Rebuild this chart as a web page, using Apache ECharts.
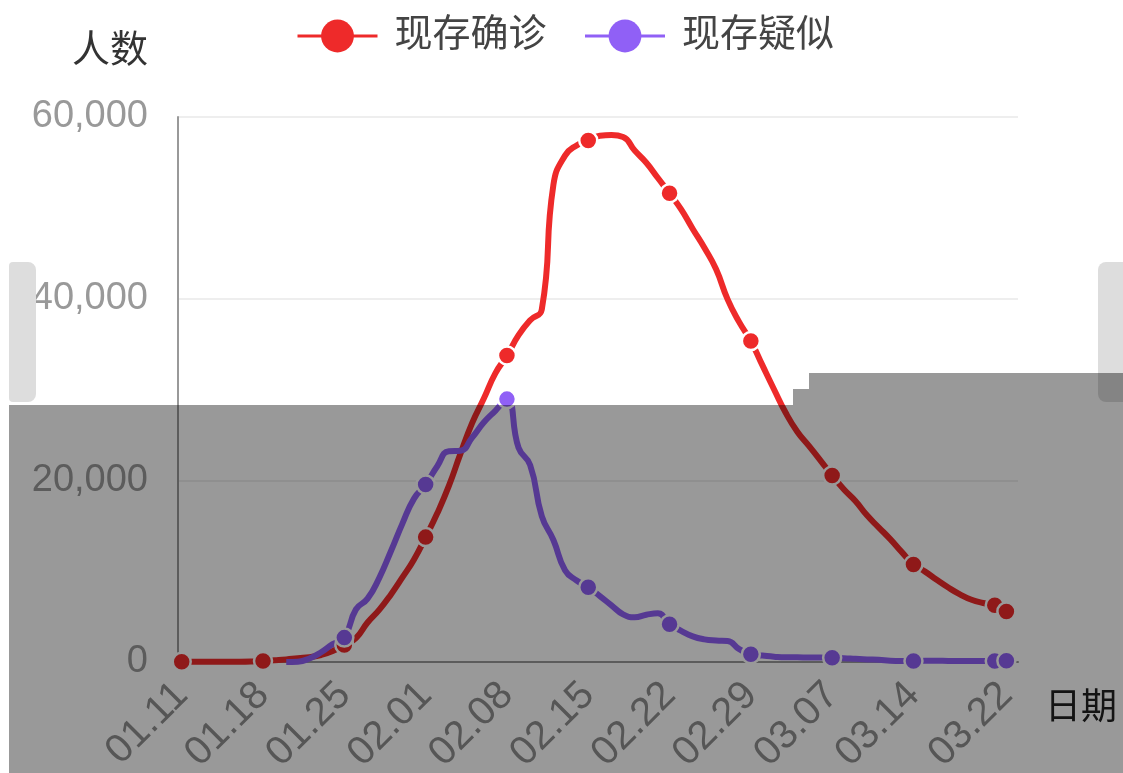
<!DOCTYPE html>
<html>
<head>
<meta charset="utf-8">
<script src="https://cdn.jsdelivr.net/npm/echarts@6/dist/echarts.min.js"></script>
<style>
html,body{margin:0;padding:0;background:#fff;}
#c{width:1123px;height:773px;}
</style>
</head>
<body>
<div id="c"></div>
<script>
// ---- data ----
const dates = [
 '01.11','01.12','01.13','01.14','01.15','01.16','01.17','01.18','01.19','01.20',
 '01.21','01.22','01.23','01.24','01.25','01.26','01.27','01.28','01.29','01.30','01.31',
 '02.01','02.02','02.03','02.04','02.05','02.06','02.07','02.08','02.09','02.10',
 '02.11','02.12','02.13','02.14','02.15','02.16','02.17','02.18','02.19','02.20',
 '02.21','02.22','02.23','02.24','02.25','02.26','02.27','02.28','02.29',
 '03.01','03.02','03.03','03.04','03.05','03.06','03.07','03.08','03.09','03.10',
 '03.11','03.12','03.13','03.14','03.15','03.16','03.17','03.18','03.19','03.20',
 '03.21','03.22'
];
const confirmedNow = [
 38,37,37,37,34,34,54,112,186,278,
 425,539,771,1208,1870,2637,4349,5739,7417,9308,11289,
 13748,16369,19381,22942,26302,28985,31774,33738,35982,37626,
 38800,52526,55748,56873,57416,57934,58016,57805,56303,54965,
 53284,51606,49824,47672,45604,43258,39919,37414,35329,
 32652,30004,27433,25352,23784,22177,20533,19016,17721,16145,
 14831,13526,12094,10734,9950,9050,8200,7450,6850,6500,
 6250,5550
];
const suspectedNow = [
 null,null,null,null,null,null,null,null,null,0,
 37,393,1072,1965,2684,5794,6973,9239,12167,15238,17988,
 19544,21558,23214,23260,24702,26359,27657,28942,23589,21675,
 16067,13435,10109,8969,8228,7264,6242,5248,4922,5206,
 5365,4148,3434,2824,2491,2358,2308,1418,851,
 715,587,520,522,482,502,458,421,349,285,
 253,147,115,113,134,128,119,105,104,106,
 118,136
];
const seriesNames = ['现存确诊','现存疑似'];
const labelIndex = [0,7,14,21,28,35,42,49,56,63,71];
const markerIndex = [0,7,14,21,28,35,42,49,56,63,70,71];
const yTicks = [0,20000,40000,60000];

// ---- styles ----
const RED = '#ee2a2a';
const PURPLE = '#9060f6';
const FONT = '"Liberation Sans","Noto Sans CJK SC",sans-serif';

const toPairs = arr => arr.map((v,i)=>[i,v]).filter(d=>d[1]!==null);
const symSize = v => markerIndex.indexOf(v[0]) >= 0 ? 18 : 0;

const chart = echarts.init(document.getElementById('c'), null, {renderer:'canvas'});
chart.setOption({
  animation:false,
  backgroundColor:'#fff',
  textStyle:{fontFamily:FONT},
  legend:{
    data:seriesNames,
    left:291, top:12,
    itemWidth:80, itemHeight:41, itemGap:37,
    lineStyle:{width:3},
    itemStyle:{borderWidth:0},
    textStyle:{fontSize:38, color:'#444', fontFamily:FONT, padding:[0,0,0,12]}
  },
  grid:{left:178, right:105, top:117, bottom:111, containLabel:false, outerBoundsMode:'none'},
  xAxis:{
    type:'value',
    min:-0.32, max:72,
    name:'日期', nameLocation:'end', nameGap:27,
    nameTextStyle:{fontSize:36, color:'#222', fontFamily:FONT, verticalAlign:'top', padding:[29,0,0,0]},
    axisLine:{show:true, onZero:false, lineStyle:{color:'#999', width:2}},
    axisTick:{show:false},
    splitLine:{show:false},
    axisLabel:{
      customValues:labelIndex,
      formatter: v => dates[v],
      rotate:45, fontSize:40, color:'#909090', margin:27, fontFamily:FONT
    }
  },
  yAxis:{
    type:'value',
    min:yTicks[0], max:yTicks[yTicks.length-1], interval:20000,
    name:'人数', nameLocation:'end', nameGap:46,
    nameTextStyle:{fontSize:38, color:'#333', fontFamily:FONT, align:'right', padding:[0,30,0,0]},
    axisLine:{show:true, onZero:false, lineStyle:{color:'#999', width:2}},
    axisTick:{show:false},
    axisLabel:{fontSize:38, color:'#999', margin:30, fontFamily:FONT},
    splitLine:{show:true, lineStyle:{color:'#eee', width:2}}
  },
  series:[
    {
      name:seriesNames[0], type:'line', smooth:true,
      data:toPairs(confirmedNow),
      symbol:'circle', symbolSize:symSize, showSymbol:true,
      lineStyle:{width:6, color:RED},
      itemStyle:{color:RED, borderColor:'#fff', borderWidth:2.5},
      emphasis:{disabled:true}
    },
    {
      name:seriesNames[1], type:'line', smooth:true,
      data:toPairs(suspectedNow),
      symbol:'circle', symbolSize:symSize, showSymbol:true,
      lineStyle:{width:6, color:PURPLE},
      itemStyle:{color:PURPLE, borderColor:'#fff', borderWidth:2.5},
      emphasis:{disabled:true}
    }
  ],
  graphic:[
    {type:'rect', z:90, shape:{x:9, y:262, width:27, height:140, r:[4,8,8,4]}, style:{fill:'#dddddd'}},
    {type:'rect', z:90, shape:{x:1098, y:262, width:25, height:140, r:[8,0,0,8]}, style:{fill:'#dddddd'}},
    {type:'polygon', z:100, shape:{points:[[9,405],[793,405],[793,389],[809,389],[809,373],[1123,373],[1123,773],[9,773]]}, style:{fill:'rgba(0,0,0,0.4)'}}
  ]
});
</script>
</body>
</html>
